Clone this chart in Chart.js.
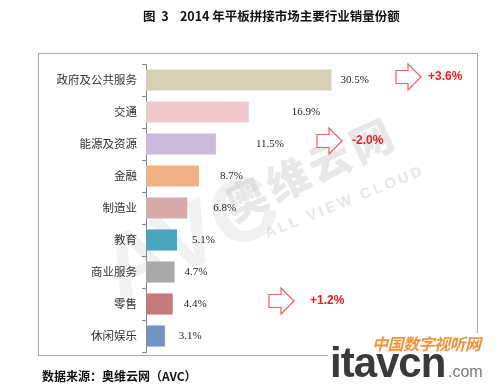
<!DOCTYPE html>
<html><head><meta charset="utf-8">
<script src="https://cdn.jsdelivr.net/npm/chart.js@4/dist/chart.umd.min.js"></script>
<style>
html,body{margin:0;padding:0;background:#fff;}
#wrap{position:relative;width:500px;height:390px;overflow:hidden;font-family:"Noto Sans CJK SC",sans-serif;}
#frame{position:absolute;left:38px;top:53px;width:438px;height:301px;border:1.5px solid #a8a8a8;}
#title{position:absolute;left:143px;top:6px;font-size:12.5px;font-weight:bold;color:#111;white-space:pre;}
#source{position:absolute;left:42px;top:367px;font-size:12px;font-weight:bold;color:#111;white-space:pre;}
.wm{position:absolute;color:rgba(190,190,190,0.35);font-weight:900;white-space:nowrap;transform-origin:left bottom;line-height:1;}
#wm1{left:235px;top:183px;font-size:42px;letter-spacing:4px;transform:rotate(-25deg);}
#wm2{left:268px;top:225px;font-size:15px;letter-spacing:3px;font-family:"Liberation Sans",sans-serif;transform:rotate(-22deg);}
#wm3{left:125px;top:225px;font-size:90px;font-family:"Liberation Sans",sans-serif;transform:rotate(-25deg);color:rgba(190,190,190,0.22);}
#logo{position:absolute;left:328px;top:333px;width:172px;height:57px;background:#fff;}
#logo .cn{position:absolute;left:44px;top:-2px;font-size:16px;font-weight:bold;font-style:italic;color:#f7923a;white-space:nowrap;letter-spacing:-0.5px;}
#logo .it{position:absolute;left:2px;top:6px;font-size:42px;font-weight:bold;color:#3a3a3a;font-family:"Liberation Sans",sans-serif;letter-spacing:-1px;}
#logo .com{position:absolute;left:120px;top:30px;font-size:16px;color:#777;font-family:"Liberation Sans",sans-serif;}
canvas{position:absolute;left:0;top:0;}
</style></head>
<body><div id="wrap">
<div id="frame"></div>
<div class="wm" id="wm3">AVC</div>
<div class="wm" id="wm1">奥维云网</div>
<div class="wm" id="wm2">ALL VIEW CLOUD</div>
<canvas id="c" width="500" height="390"></canvas>
<div id="title">图  3    2014 年平板拼接市场主要行业销量份额</div>
<div id="source">数据来源：奥维云网（AVC）</div>
<div id="logo"><span class="cn">中国数字视听网</span><span class="it">itavcn</span><span class="com">.com</span></div>
</div>
<script>
const categories = ['政府及公共服务','交通','能源及资源','金融','制造业','教育','商业服务','零售','休闲娱乐'];
const shares = [30.5,16.9,11.5,8.7,6.8,5.1,4.7,4.4,3.1];
const changeRows = [0,2,7];
const changeLabels = ['+3.6%','-2.0%','+1.2%'];

const barColors = ['#d5d0b4','#efc9cb','#cbbad9','#f2b183','#d8abab','#4aa5bd','#a9a9a9','#c47a7c','#7393c0'];
const labelGaps = [9,43,40,21,26,15,10,11,14];
const arrowX = [396,317,269];
const arrowTextX = [428,352,310];

const valuePlugin = {
  id:'valueLabels',
  afterDatasetsDraw(chart){
    const ctx = chart.ctx;
    const meta = chart.getDatasetMeta(0);
    ctx.save();
    ctx.font = '11px "Liberation Serif", serif';
    ctx.fillStyle = '#222';
    ctx.textBaseline = 'middle';
    ctx.textAlign = 'left';
    meta.data.forEach((bar,i)=>{
      ctx.fillText(shares[i].toFixed(1)+'%', bar.x + labelGaps[i], bar.y);
    });
    ctx.restore();
  }
};

const arrowPlugin = {
  id:'changeArrows',
  afterDraw(chart){
    const ctx = chart.ctx;
    const ys = chart.scales.y;
    ctx.save();
    changeRows.forEach((row,i)=>{
      const y = ys.getPixelForValue(row) - 3;
      const x0 = arrowX[i];
      ctx.beginPath();
      ctx.moveTo(x0, y-6.5);
      ctx.lineTo(x0+12, y-6.5);
      ctx.lineTo(x0+12, y-13);
      ctx.lineTo(x0+25, y);
      ctx.lineTo(x0+12, y+13);
      ctx.lineTo(x0+12, y+6.5);
      ctx.lineTo(x0, y+6.5);
      ctx.closePath();
      ctx.fillStyle = '#fff';
      ctx.fill();
      ctx.strokeStyle = '#ff5c5c';
      ctx.lineWidth = 1.2;
      ctx.stroke();
      ctx.font = 'bold 12px "Liberation Sans", Arial, sans-serif';
      ctx.fillStyle = '#ff1a1a';
      ctx.textBaseline = 'middle';
      ctx.fillText(changeLabels[i], arrowTextX[i], y);
    });
    ctx.restore();
  }
};

new Chart(document.getElementById('c'),{
  type:'bar',
  data:{labels:categories,datasets:[{data:shares,backgroundColor:barColors,borderWidth:0,barPercentage:0.66,categoryPercentage:1}]},
  options:{
    indexAxis:'y',responsive:false,animation:false,devicePixelRatio:1,
    layout:{padding:{top:64,bottom:38,left:0,right:50}},
    plugins:{legend:{display:false},tooltip:{enabled:false},title:{display:false}},
    scales:{
      x:{display:false,min:0,max:50},
      y:{
        afterFit(s){s.width=146;},
        grid:{drawOnChartArea:false,tickLength:4,color:'#888',offset:true},
        border:{color:'#888',width:1},
        ticks:{color:'#333',font:{family:'"Noto Sans CJK SC", sans-serif',size:11.5},padding:5}
      }
    }
  },
  plugins:[valuePlugin,arrowPlugin]
});
</script>
</body></html>
